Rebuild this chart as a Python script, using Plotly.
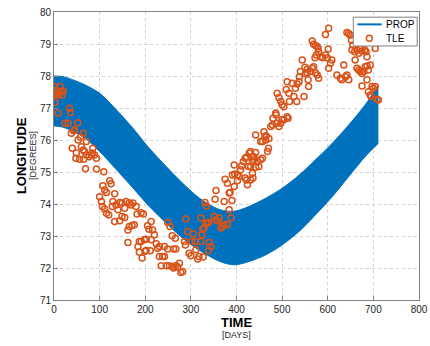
import plotly.graph_objects as go

# PROP envelope (band of fast oscillating propagation)
band_days = [0, 20, 64, 100, 137, 173, 209, 246, 282, 319, 355, 377, 398, 427, 464,
             500, 537, 573, 610, 646, 682, 711]
band_upper = [78.0, 77.98, 77.75, 77.46, 76.94, 76.37, 75.74, 75.17, 74.65, 74.18, 73.87,
              73.78, 73.78, 73.92, 74.18, 74.49, 74.90, 75.38, 75.90, 76.47, 77.10, 77.72]
band_lower = [76.44, 76.40, 76.10, 75.64, 75.07, 74.50, 73.92, 73.40, 72.93, 72.55, 72.26,
              72.14, 72.10, 72.20, 72.41, 72.72, 73.14, 73.66, 74.23, 74.86, 75.48, 75.90]

# TLE observations
tle_days = [0, 2, 5, 9, 13, 16, 18, 20, 4, 11, 2, 9,
            24, 31, 34, 36, 38, 43, 45, 52, 53, 60, 64, 58, 40, 49, 48, 56, 65, 64,
            67, 71, 71, 77, 82, 85, 84, 89, 93, 69, 93, 109,
            107, 111, 115, 122, 125, 100, 104, 106, 111, 115, 120, 133, 129, 128, 136, 140,
            144, 149, 155, 158, 165, 169, 173, 180, 182, 191, 196, 133, 144, 149, 155, 162,
            165, 171, 176, 162, 187, 184, 191, 198, 202, 205, 213, 208, 216, 220, 213, 193,
            200, 187, 202, 211, 224, 227, 231, 242, 249, 231, 238, 242, 235, 246, 253, 260,
            262, 267, 271, 275, 278, 282, 249, 254, 259, 262, 267, 266,
            286, 288, 289, 293, 296, 300, 302, 305, 310, 311, 315, 318, 322, 324, 322, 326,
            329, 333, 336, 339, 331, 334, 327, 340, 344, 339, 351, 355, 358, 362, 366, 369,
            373, 380, 384, 388, 390, 386, 380, 384, 355, 353, 373, 375, 395, 391, 395, 396,
            402, 406, 402, 409, 411, 415, 419, 422, 428, 431, 435, 438, 442, 426, 431, 435,
            438, 442, 446, 449, 453, 457, 419, 422, 424, 431, 436, 435, 442, 453, 457, 460,
            462, 464, 465, 468, 470, 471, 475, 479, 480, 486, 487, 489, 493, 497, 500, 504,
            511, 513, 489, 493, 497, 500, 504, 509, 511, 515, 516, 522, 526, 529, 532, 533,
            537, 538, 540, 544, 548, 550, 551, 555, 557, 558, 562, 566, 569, 573, 577, 580,
            555,
            602, 606, 609, 620, 628, 631, 635, 639, 642, 646, 660, 664, 668, 671, 675, 679,
            682, 686, 689, 693, 686, 675, 689, 693, 695, 697, 700, 704, 708, 711,
            602, 595, 566, 569, 573, 577, 579, 580, 575, 572, 584, 589, 595, 601, 599, 642,
            646, 649, 652, 655, 659, 664, 668, 671, 675, 681, 684, 686, 704, 653]
tle_lon = [77.67, 77.46, 77.56, 77.41, 77.67, 77.51, 77.41, 77.54, 77.41, 77.46, 77.17, 76.84,
           76.52, 76.52, 76.99, 76.86, 76.21, 76.29, 76.31, 76.54, 76.00, 75.79, 76.21, 76.09,
           75.74, 75.59, 75.43, 75.40, 75.40, 75.69,
           75.64, 75.95, 75.53, 75.48, 75.53, 75.74, 75.59, 75.53, 75.43, 75.10, 75.09, 75.01,
           74.57, 74.44, 74.36, 74.73, 74.63, 74.23, 74.08, 73.92, 73.84, 73.71, 73.66, 74.32,
           74.08, 73.92, 73.97, 73.82,
           74.05, 74.03, 73.87, 74.08, 74.03, 73.97, 74.03, 73.92, 73.69, 73.73, 73.69, 73.45,
           73.48, 73.61, 73.58, 73.19,
           73.30, 73.33, 73.35, 72.80, 72.83, 72.67, 72.83, 72.88, 72.90, 73.32, 73.45, 73.21,
           73.19, 73.04, 72.88, 72.31,
           72.52, 72.49, 72.55, 72.54, 72.76, 72.62, 72.67, 72.67, 72.59, 72.36, 72.36, 72.36,
           72.07, 72.07, 72.07, 72.05,
           72.00, 72.07, 72.03, 72.15, 71.86, 71.89, 73.42, 73.30, 73.01, 72.59, 72.59, 72.93,
           72.83, 72.72, 73.53, 73.14, 72.46, 72.38, 72.83, 73.07, 72.83, 72.57, 72.28, 72.36,
           72.83, 73.04, 73.56, 73.21,
           73.25, 73.40, 73.40, 73.42, 74.05, 73.94, 72.34, 72.80, 72.67, 72.55, 73.61, 73.51,
           73.48, 73.56, 73.25, 73.30,
           73.35, 73.35, 73.82, 73.56, 74.11, 74.36, 74.65, 74.34, 74.42, 74.15, 74.08, 74.77,
           74.55, 74.91, 75.22, 74.94,
           74.91, 74.86, 74.73, 75.07, 75.19, 75.33, 75.43, 75.46, 75.59, 75.64, 75.48, 75.48,
           75.61, 75.17, 75.17, 75.33,
           75.38, 75.15, 75.33, 75.17, 75.38, 75.43, 74.81, 74.75, 74.60, 74.75, 74.81, 74.96,
           76.16, 75.95, 75.95, 76.26,
           76.11, 76.00, 76.13, 75.64, 75.74, 76.05, 76.42, 76.47, 76.68, 76.84, 76.78, 76.52,
           76.42, 76.52, 76.63, 76.63,
           76.73, 76.68, 77.46, 77.33, 77.20, 77.10, 77.04, 77.58, 77.82, 77.46, 77.20, 77.77,
           77.36, 77.62, 77.20, 77.75,
           77.82, 77.98, 78.14, 78.50, 77.36, 78.27, 78.08, 78.21, 77.88, 77.67, 78.14, 78.24,
           78.29, 78.10, 78.03, 77.93,
           78.10,
           78.24, 78.40, 78.50, 78.03, 77.93, 77.88, 78.34, 77.98, 78.03, 77.88, 78.50, 78.24,
           78.19, 78.14, 78.08, 78.14,
           78.29, 78.31, 78.19, 78.34, 77.88, 77.69, 77.51, 77.41, 77.36, 77.67, 77.62, 77.67,
           77.27, 77.25,
           79.49, 79.30, 79.09, 78.99, 78.95, 78.92, 78.86, 78.76, 78.66, 78.57, 78.60, 78.57,
           78.66, 78.84, 78.57, 79.36,
           79.33, 79.28, 79.12, 78.97, 78.76, 78.81, 78.71, 78.86, 78.78, 78.81, 78.76, 78.60,
           78.86, 78.81]

x_ticks = [0, 100, 200, 300, 400, 500, 600, 700, 800]
y_ticks = [71, 72, 73, 74, 75, 76, 77, 78, 79, 80]
series_names = ['PROP', 'TLE']

BLUE = '#0072BD'
ORANGE = '#D95319'
FONT = 'Liberation Sans, Arial, Helvetica, sans-serif'

fig = go.Figure()
fig.add_trace(go.Scatter(x=band_days, y=band_lower, mode='lines',
                         line=dict(color=BLUE, width=1, shape='spline', smoothing=0.8),
                         showlegend=False, hoverinfo='skip'))
fig.add_trace(go.Scatter(x=band_days, y=band_upper, mode='lines', fill='tonexty',
                         fillcolor=BLUE, name=series_names[0],
                         line=dict(color=BLUE, width=1, shape='spline', smoothing=0.8),
                         showlegend=False, hoverinfo='skip'))
fig.add_trace(go.Scatter(x=tle_days, y=tle_lon, mode='markers', name=series_names[1],
                         showlegend=False,
                         marker=dict(symbol='circle-open', size=6, color=ORANGE,
                                     line=dict(width=1.5, color=ORANGE))))

axis_common = dict(showline=True, mirror=True, linecolor='#808080', linewidth=1,
                   ticks='inside', ticklen=4, tickcolor='#808080', automargin=False,
                   showgrid=True, gridcolor='#d2d2d2', griddash='dot', gridwidth=1,
                   zeroline=False, tickfont=dict(family=FONT, size=10, color='#262626'))

title_font = dict(family=FONT, size=13, color='#000000')
sub_font = dict(family=FONT, size=9, color='#262626')
leg_font = dict(family=FONT, size=10, color='#000000')

# compact MATLAB-style legend box (paper coordinates)
shapes = [
    dict(type='rect', xref='paper', yref='paper', x0=0.820, x1=0.995, y0=0.882, y1=0.982,
         fillcolor='white', line=dict(color='#808080', width=1), layer='above'),
    dict(type='line', xref='paper', yref='paper', x0=0.831, x1=0.898, y0=0.957, y1=0.957,
         line=dict(color=BLUE, width=2), layer='above'),
    dict(type='circle', xref='paper', yref='paper', xsizemode='pixel', ysizemode='pixel',
         xanchor=0.864, yanchor=0.909, x0=-3, x1=3, y0=-3, y1=3,
         line=dict(color=ORANGE, width=1.5), fillcolor='rgba(0,0,0,0)', layer='above'),
]

fig.update_layout(
    width=430, height=346,
    margin=dict(l=54, r=11, t=12, b=46),
    paper_bgcolor='white', plot_bgcolor='white',
    font=dict(family=FONT, color='#262626'),
    xaxis=dict(range=[0, 800], tickvals=x_ticks, **axis_common),
    yaxis=dict(range=[71, 80], tickvals=y_ticks, **axis_common),
    showlegend=False,
    shapes=shapes,
    annotations=[
        dict(text='<b>TIME</b>', xref='paper', yref='paper', x=0.5, y=-0.0764,
             xanchor='center', yanchor='middle', showarrow=False, font=title_font),
        dict(text='[DAYS]', xref='paper', yref='paper', x=0.5, y=-0.1215,
             xanchor='center', yanchor='middle', showarrow=False, font=sub_font),
        dict(text='<b>LONGITUDE</b>', xref='paper', yref='paper', x=-0.0902, y=0.5,
             xanchor='center', yanchor='middle', showarrow=False, textangle=-90,
             font=title_font),
        dict(text='[DEGREES]', xref='paper', yref='paper', x=-0.0574, y=0.5,
             xanchor='center', yanchor='middle', showarrow=False, textangle=-90,
             font=sub_font),
        dict(text=series_names[0], xref='paper', yref='paper', x=0.903, y=0.957,
             xanchor='left', yanchor='middle', showarrow=False, font=leg_font),
        dict(text=series_names[1], xref='paper', yref='paper', x=0.903, y=0.909,
             xanchor='left', yanchor='middle', showarrow=False, font=leg_font),
    ],
)

fig.write_html("out.html")
